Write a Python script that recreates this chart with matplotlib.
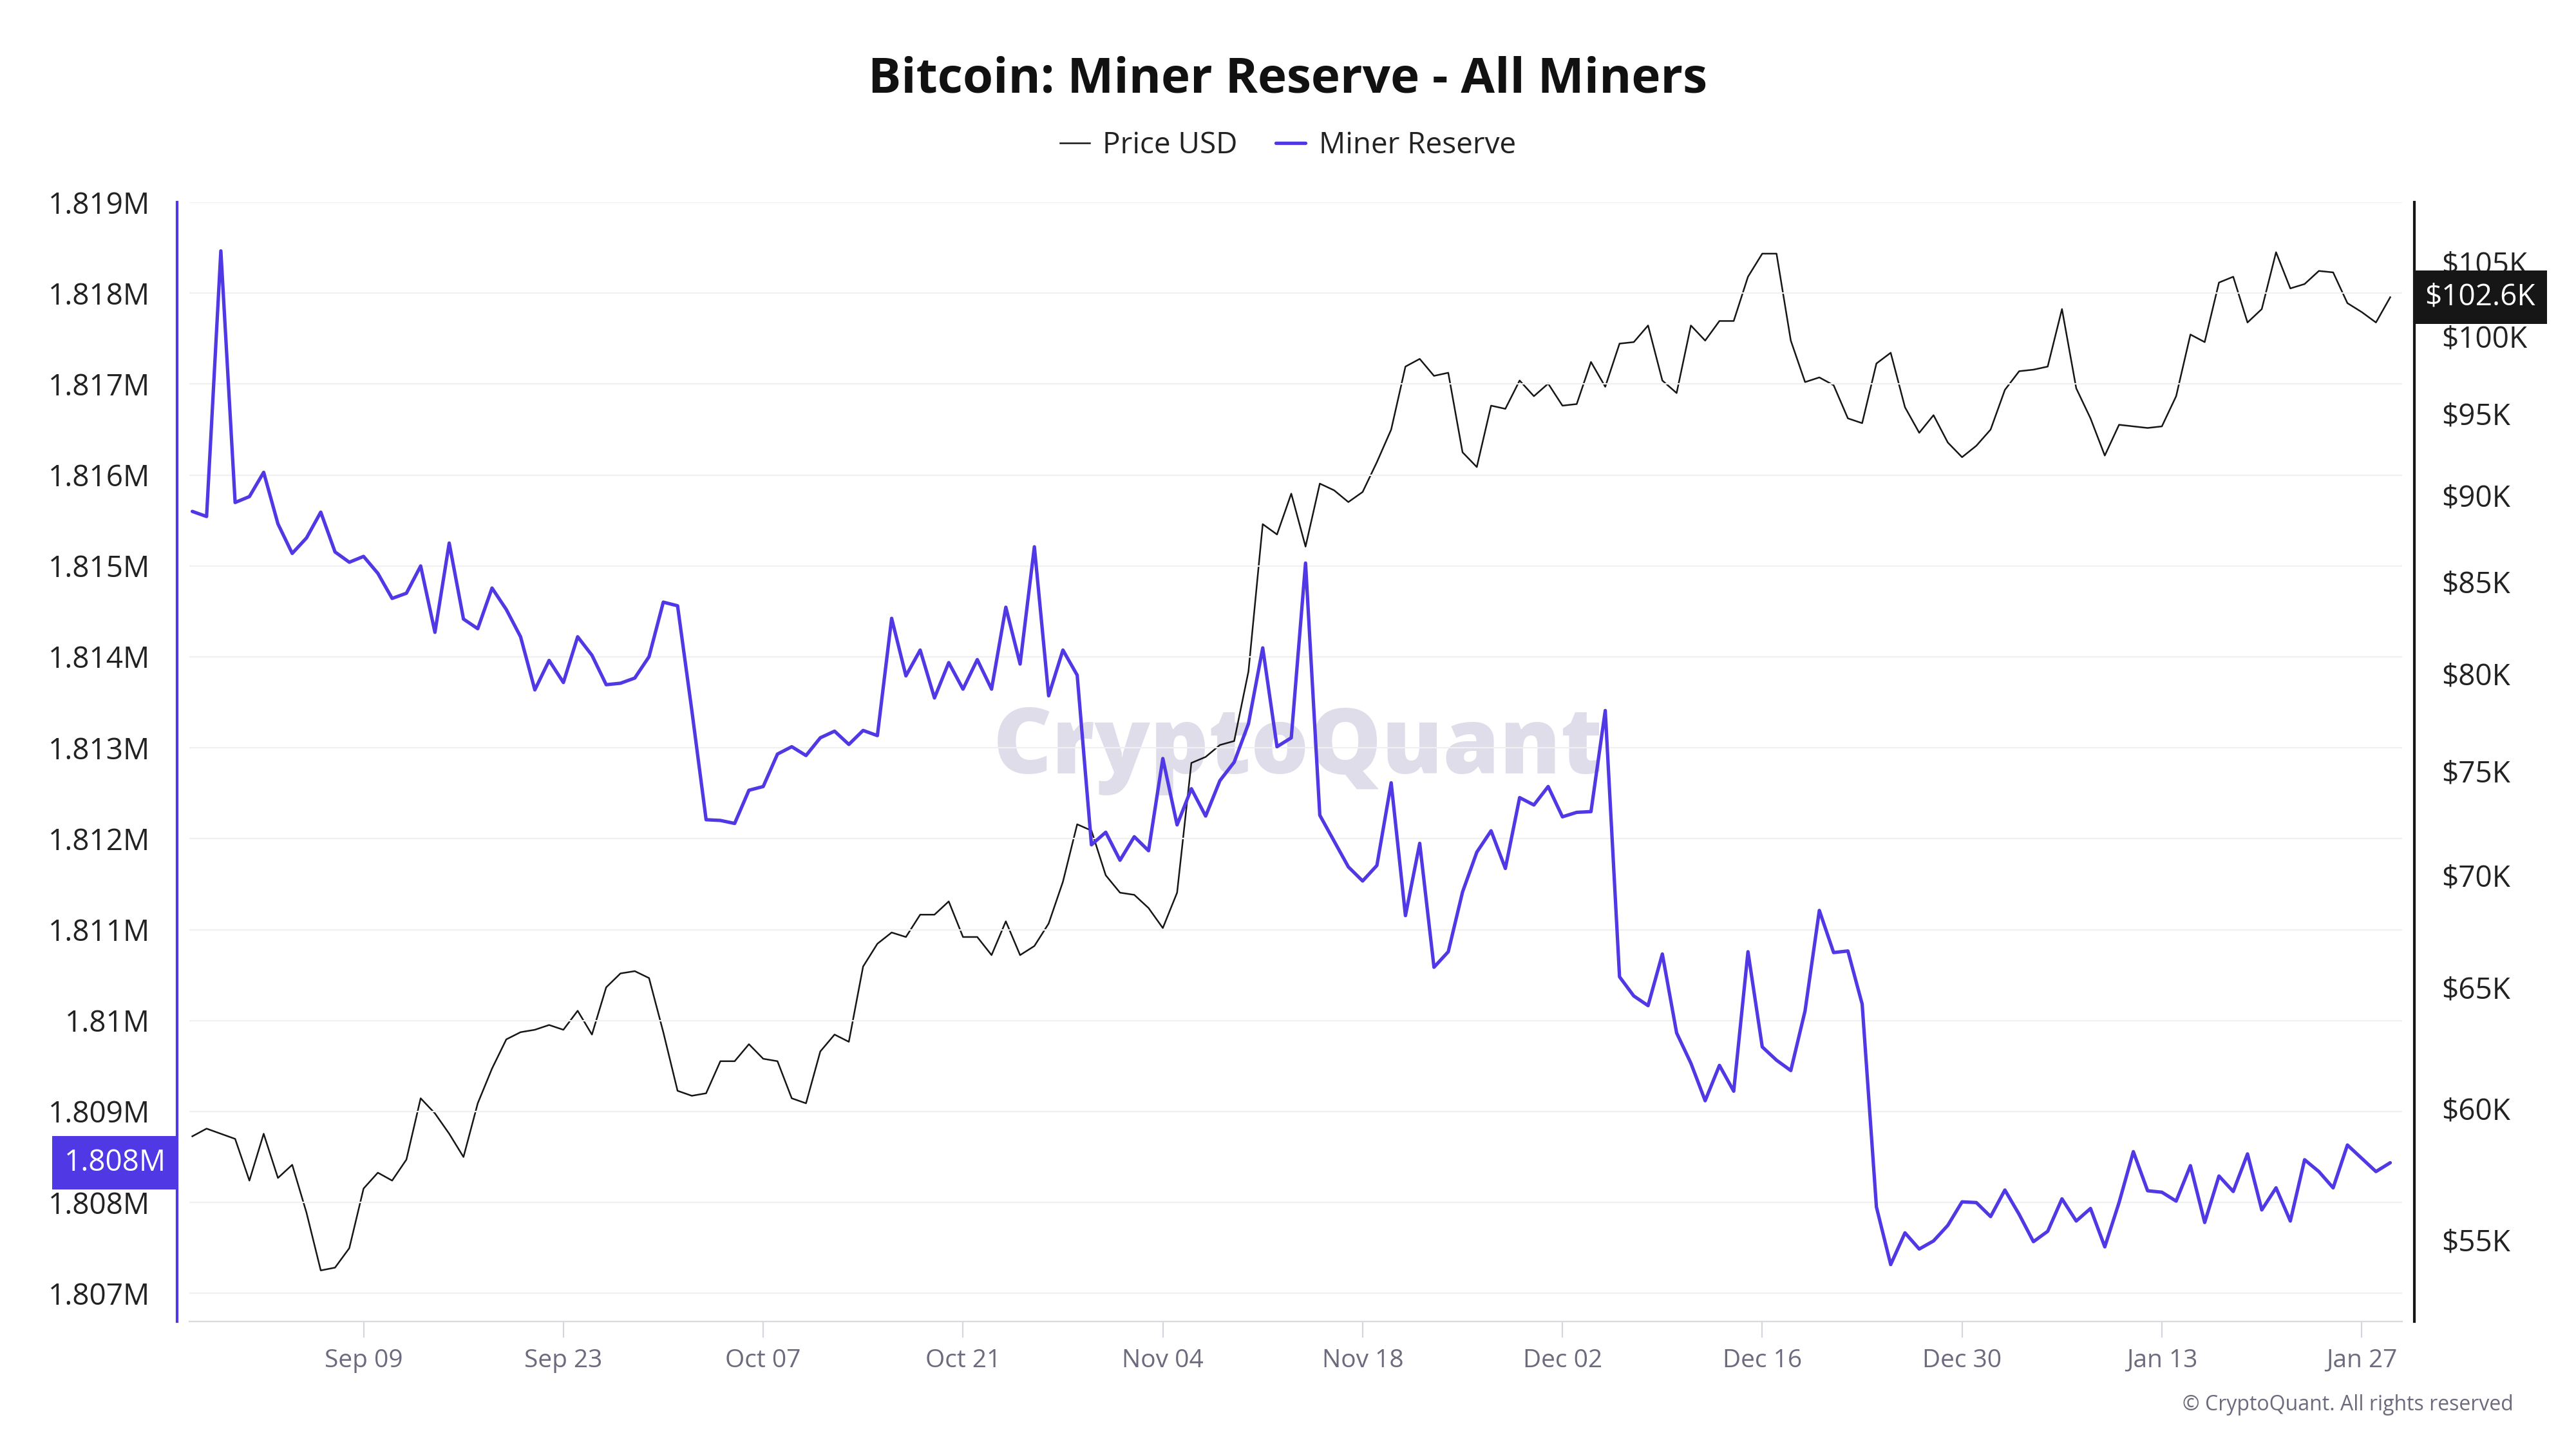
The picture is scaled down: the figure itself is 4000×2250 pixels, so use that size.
import pandas as pd
import matplotlib
matplotlib.use('Agg')
import matplotlib.pyplot as plt
import matplotlib.dates as mdates
import matplotlib.transforms as mtransforms
from matplotlib.ticker import FixedLocator, FuncFormatter, NullLocator

plt.rcParams['font.family'] = ['Open Sans', 'DejaVu Sans']

# daily data, Aug 28 2024 - Jan 29 2025
dates = pd.date_range('2024-08-28', '2025-01-29', freq='D')

reserve = [
    1815600, 1815544, 1818465, 1815698, 1815763, 1816030, 1815463, 1815138, 1815308, 1815592,
    1815154, 1815041, 1815105, 1814919, 1814643, 1814700, 1815000, 1814270, 1815252, 1814416,
    1814310, 1814757, 1814521, 1814221, 1813637, 1813961, 1813718, 1814221, 1814018, 1813694,
    1813710, 1813767, 1814002, 1814602, 1814562, 1813410, 1812209, 1812201, 1812168, 1812533,
    1812574, 1812931, 1813012, 1812915, 1813110, 1813183, 1813037, 1813191, 1813134, 1814424,
    1813791, 1814075, 1813548, 1813937, 1813645, 1813970, 1813645, 1814546, 1813921, 1815211,
    1813572, 1814075, 1813799, 1811933, 1812071, 1811763, 1812022, 1811868, 1812882, 1812152,
    1812550, 1812249, 1812639, 1812842, 1813264, 1814099, 1813012, 1813110, 1815032, 1812258,
    1811974, 1811690, 1811535, 1811706, 1812615, 1811154, 1811949, 1810586, 1810757, 1811414,
    1811852, 1812087, 1811673, 1812452, 1812371, 1812574, 1812241, 1812290, 1812298, 1813410,
    1810481, 1810270, 1810164, 1810732, 1809864, 1809531, 1809118, 1809507, 1809223, 1810757,
    1809710, 1809564, 1809450, 1810107, 1811211, 1810748, 1810765, 1810181, 1807949, 1807316,
    1807665, 1807487, 1807576, 1807747, 1808006, 1807998, 1807844, 1808136, 1807868, 1807568,
    1807682, 1808039, 1807795, 1807933, 1807511, 1807998, 1808558, 1808128, 1808112, 1808014,
    1808404, 1807779, 1808290, 1808120, 1808533, 1807917, 1808160, 1807795, 1808469, 1808339,
    1808160, 1808631, 1808485, 1808339, 1808436,
]

price_k = [
    58.9, 59.2, 59.0, 58.8, 57.2, 59.0, 57.3, 57.8, 56.0, 53.9,
    54.0, 54.7, 56.9, 57.5, 57.2, 58.0, 60.4, 59.8, 59.0, 58.1,
    60.2, 61.6, 62.8, 63.1, 63.2, 63.4, 63.2, 64.0, 63.0, 65.0,
    65.6, 65.7, 65.4, 63.1, 60.7, 60.5, 60.6, 61.9, 61.9, 62.6,
    62.0, 61.9, 60.4, 60.2, 62.3, 63.0, 62.7, 65.9, 66.9, 67.4,
    67.2, 68.2, 68.2, 68.8, 67.2, 67.2, 66.4, 67.9, 66.4, 66.8,
    67.8, 69.7, 72.4, 72.1, 70.0, 69.2, 69.1, 68.5, 67.6, 69.2,
    75.4, 75.7, 76.3, 76.5, 80.1, 88.3, 87.7, 90.1, 87.0, 90.7,
    90.3, 89.6, 90.2, 92.0, 94.0, 98.0, 98.5, 97.4, 97.6, 92.6,
    91.7, 95.5, 95.3, 97.1, 96.1, 96.9, 95.5, 95.6, 98.3, 96.7,
    99.5, 99.6, 100.7, 97.1, 96.3, 100.7, 99.7, 101.0, 101.0, 104.0,
    105.6, 105.6, 99.7, 97.0, 97.3, 96.8, 94.7, 94.4, 98.2, 98.9,
    95.4, 93.8, 94.9, 93.2, 92.3, 93.0, 94.0, 96.5, 97.7, 97.8,
    98.0, 101.8, 96.6, 94.7, 92.4, 94.3, 94.2, 94.1, 94.2, 96.1,
    100.1, 99.6, 103.6, 104.0, 100.9, 101.8, 105.7, 103.2, 103.5, 104.4,
    104.3, 102.2, 101.6, 100.9, 102.6,
]
price = [p * 1000 for p in price_k]

reserve_ticks = list(range(1807000, 1819001, 1000))
price_ticks = [55000, 60000, 65000, 70000, 75000, 80000, 85000, 90000, 95000, 100000, 105000]
date_ticks = pd.date_range('2024-09-09', '2025-01-27', freq='14D')

BLUE = '#5039e4'
DARK = '#161616'

fig = plt.figure(figsize=(20, 11.25), dpi=200)
ax = fig.add_axes([0.0735, 0.088, 0.859, 0.7724])
ax2 = ax.twinx()
ax.set_zorder(ax2.get_zorder() + 1)
ax.patch.set_visible(False)

l_price, = ax2.plot(dates, price, color=DARK, lw=0.9, label='Price USD')
l_res, = ax.plot(dates, reserve, color=BLUE, lw=1.9, label='Miner Reserve',
                 solid_joinstyle='round', solid_capstyle='round')

ax.set_xlim(dates[0] - pd.Timedelta(hours=5), dates[-1] + pd.Timedelta(hours=20))
ax.set_ylim(1806690, 1819000)
ax2.set_yscale('log')
ax2.set_ylim(52110, 109250)

# left axis
ax.yaxis.set_major_locator(FixedLocator(reserve_ticks))
ax.yaxis.set_major_formatter(FuncFormatter(lambda v, _: f'{v / 1e6:.3f}'.rstrip('0') + 'M'))
ax.grid(axis='y', color='#f0f0f3', lw=0.8)
ax.tick_params(axis='y', length=0, pad=15, labelsize=16.5, labelcolor='#222222')

# right axis
ax2.yaxis.set_major_locator(FixedLocator(price_ticks))
ax2.yaxis.set_minor_locator(NullLocator())
ax2.yaxis.set_major_formatter(FuncFormatter(lambda v, _: f'${v / 1000:.0f}K'))
ax2.tick_params(axis='y', which='both', length=0, pad=15, labelsize=16.5, labelcolor='#222222')

# x axis
ax.xaxis.set_major_locator(FixedLocator(mdates.date2num(date_ticks)))
ax.xaxis.set_major_formatter(mdates.DateFormatter('%b %d'))
ax.tick_params(axis='x', length=9, width=0.8, color='#d5d5de', labelcolor='#6b6b7d',
               labelsize=14, pad=6)

for s in ['top', 'right']:
    ax.spines[s].set_visible(False)
ax.spines['left'].set_color(BLUE)
ax.spines['left'].set_linewidth(1.5)
ax.spines['left'].set_position(('outward', 7))
ax.spines['bottom'].set_color('#d9d9e0')
ax.spines['bottom'].set_linewidth(0.8)
for s in ['top', 'left', 'bottom']:
    ax2.spines[s].set_visible(False)
ax2.spines['right'].set_color(DARK)
ax2.spines['right'].set_linewidth(1.5)
ax2.spines['right'].set_position(('outward', 7))

# watermark
ax2.text(0.501, 0.511, 'CryptoQuant', transform=ax2.transAxes, ha='center', va='center',
         fontsize=51, fontweight='heavy', color='#dfdde9', zorder=1)

# last value labels
tr_r = mtransforms.offset_copy(mtransforms.blended_transform_factory(ax2.transAxes, ax2.transData),
                               fig=fig, x=12.6, y=0, units='points')
ax2.text(1, price[-1], f'${price[-1] / 1000:.1f}K', transform=tr_r, ha='left', va='center',
         fontsize=16.5, color='white', zorder=10,
         bbox=dict(boxstyle='square,pad=0.4', fc=DARK, ec='none'))
tr_l = mtransforms.offset_copy(mtransforms.blended_transform_factory(ax.transAxes, ax.transData),
                               fig=fig, x=-13, y=0, units='points')
ax.text(0, reserve[-1], f'{reserve[-1] / 1e6:.3f}M', transform=tr_l, ha='right', va='center',
        fontsize=16.5, color='white', zorder=10,
        bbox=dict(boxstyle='square,pad=0.4', fc=BLUE, ec='none'))

fig.text(0.5, 1 - 124 / 2250, 'Bitcoin: Miner Reserve - All Miners', ha='center', va='center',
         fontsize=27.5, fontweight='bold', color='#111111')
fig.legend(handles=[l_price, l_res], loc='center', bbox_to_anchor=(0.5, 1 - 226 / 2250), ncol=2,
           frameon=False, fontsize=16.5, handlelength=1.0, handletextpad=0.45,
           columnspacing=1.3, labelcolor='#222222')
fig.text(3903 / 4000, 1 - 2181 / 2250, '\u00a9 CryptoQuant. All rights reserved', ha='right',
         va='center', fontsize=11.5, color='#6b6b7d')

fig.savefig('out.png', dpi=200)
